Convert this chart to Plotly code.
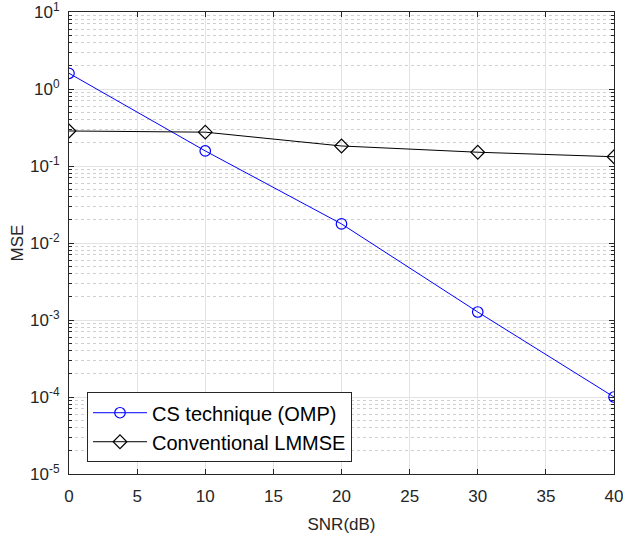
import plotly.graph_objects as go

snr = [0, 10, 20, 30, 40]
mse_cs = [1.6, 0.157, 0.0177, 0.00127, 0.0001]
mse_lmmse = [0.285, 0.275, 0.182, 0.151, 0.132]

y_tick_vals = [1e-5, 1e-4, 1e-3, 1e-2, 1e-1, 1e0, 1e1]
y_tick_text = ["10<sup>-5</sup>", "10<sup>-4</sup>", "10<sup>-3</sup>", "10<sup>-2</sup>",
               "10<sup>-1</sup>", "10<sup>0</sup>", "10<sup>1</sup>"]

fig = go.Figure()
fig.add_trace(go.Scatter(
    x=snr, y=mse_cs, mode="lines+markers", name="CS technique (OMP)",
    line=dict(color="#0000ff", width=1),
    marker=dict(symbol="circle-open", size=10.5, color="#0000ff", line=dict(width=1.2)),
))
fig.add_trace(go.Scatter(
    x=snr, y=mse_lmmse, mode="lines+markers", name="Conventional LMMSE",
    line=dict(color="#000000", width=1),
    marker=dict(symbol="diamond-open", size=10.5, color="#000000", line=dict(width=1.2)),
))

axis_col = "#262626"
fig.update_layout(
    width=623, height=536,
    margin=dict(l=69, r=9, t=12, b=62),
    plot_bgcolor="white", paper_bgcolor="white",
    font=dict(family="Liberation Sans, Arial, sans-serif", size=16, color=axis_col),
    showlegend=True,
    legend=dict(
        x=0.033, y=0.177, xanchor="left", yanchor="top",
        bgcolor="white", bordercolor=axis_col, borderwidth=1,
        font=dict(size=20, color="#000000"),
        tracegroupgap=0, itemwidth=54,
    ),
)
fig.update_xaxes(
    range=[0, 40], dtick=5, tick0=0,
    showline=True, linecolor=axis_col, linewidth=1, mirror="ticks",
    ticks="inside", ticklen=5, tickcolor=axis_col,
    showgrid=True, gridcolor="#e3e3e3", gridwidth=1,
    zeroline=False, automargin=False,
    tickfont=dict(size=17), ticklabelstandoff=7, ticklabeloverflow="allow",
    title=dict(text="SNR(dB)", font=dict(size=17), standoff=12),
)
fig.update_yaxes(
    type="log", range=[-5, 1],
    tickmode="array", tickvals=y_tick_vals, ticktext=y_tick_text,
    showline=True, linecolor=axis_col, linewidth=1, mirror="ticks",
    ticks="inside", ticklen=5, tickcolor=axis_col,
    showgrid=True, gridcolor="#e3e3e3", gridwidth=1,
    minor=dict(ticks="inside", ticklen=3, tickcolor=axis_col, dtick="D1",
               showgrid=True, gridcolor="#cfcfcf", griddash="dot", gridwidth=1),
    zeroline=False, automargin=False,
    tickfont=dict(size=17), ticklabelstandoff=5, ticklabeloverflow="allow",
    title=dict(text="MSE", font=dict(size=17), standoff=2),
)

fig.write_html("out.html")
